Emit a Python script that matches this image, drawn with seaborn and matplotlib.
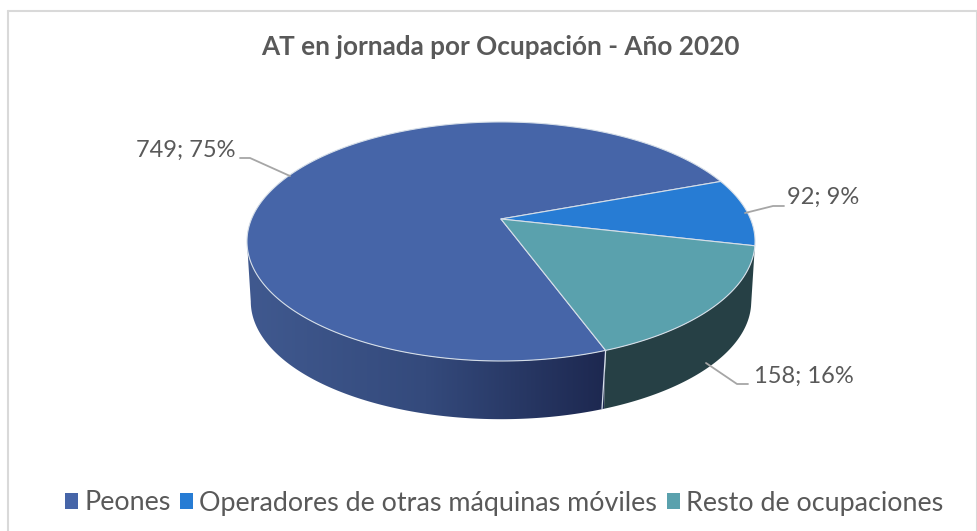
import numpy as np
import seaborn as sns
import matplotlib.pyplot as plt
from matplotlib.patches import Patch, Polygon

# Data
categories = ['Peones', 'Operadores de otras máquinas móviles', 'Resto de ocupaciones']
values = [749, 92, 158]
title = 'AT en jornada por Ocupación - Año 2020'

# Colors
face_colors = ['#4665A8', '#277CD4', '#5AA1AD']
wall_peones = ['#40598F', '#344A7C', '#1D2850']
wall_resto = '#264045'
edge_color = '#D5DEE8'
text_color = '#595959'
leader_color = '#A6A6A6'

sns.set_theme(style='white')
plt.rcParams['font.family'] = ['Lato', 'DejaVu Sans']

fig, ax = plt.subplots(figsize=(9.78, 5.31), dpi=100)
ax.set_position([0, 0, 1, 1])
ax.set_xlim(0, 978)
ax.set_ylim(531, 0)
ax.axis('off')

# Perspective view of the pie disc, in picture units
cx, cy = 501, 219
rx, ry, k = 249.5, 115.3, 0.188
mid_y, depth, shrink = 241, 60, 0.985


def rim(deg, lower=False):
    t = np.radians(deg)
    w = 1 + k * np.sin(t)
    x = cx + rx * np.cos(t) / w
    y = cy - ry * np.sin(t) / w
    if lower:
        x = cx + shrink * (x - cx)
        y = mid_y + depth + shrink * (y - mid_y)
    return x, y


def wall_outline(a0, a1):
    t = np.linspace(a0, a1, 120)
    x0, y0 = rim(t)
    x1, y1 = rim(t, lower=True)
    return np.r_[np.c_[x0, y0], np.c_[x1, y1][::-1]]


# Slice limits, clockwise, from the values
start = -69.8
sweep = 360 * np.array(values) / sum(values)
limits = start - np.r_[0, np.cumsum(sweep)]

# Walls
left_end = -169.2
poly = Polygon(wall_outline(limits[0], left_end), closed=True, fc='none', ec='none')
ax.add_patch(poly)
cmap = sns.blend_palette(wall_peones, n_colors=256, as_cmap=True)
grad = np.linspace(0, 1, 256).reshape(1, -1)
img = ax.imshow(grad, cmap=cmap, extent=(247, 605, 425, 230), aspect='auto', zorder=1)
img.set_clip_path(poly)
ax.set_xlim(0, 978)
ax.set_ylim(531, 0)

right_end = limits[2] + 360
ax.add_patch(Polygon(wall_outline(limits[0], right_end), closed=True, fc=wall_resto, ec='none', zorder=1))
sx, sy = rim(np.array([limits[0]]))
bx, by = rim(np.array([limits[0]]), lower=True)
ax.plot([sx[0], bx[0] - 2], [sy[0], by[0]], color=edge_color, lw=0.9, zorder=2)

# Top faces
for i in range(len(values)):
    t = np.linspace(limits[i], limits[i + 1], 300)
    x, y = rim(t)
    ax.fill(np.r_[cx, x], np.r_[cy, y], fc=face_colors[i], ec=edge_color, lw=0.8, zorder=3, joinstyle='round')

# Data labels with leader lines
total = sum(values)
labels = [f'{v}; {round(100 * v / total)}%' for v in values]
label_pos = [(235, 150, 'right'), (787, 197, 'left'), (754, 376, 'left')]
leaders = [
    ([240, 250, 290], [158, 158, 176]),
    ([745, 773, 784], [213, 206, 206]),
    ([706, 737, 748], [363, 384, 384]),
]
for lab, (lx, ly, ha), (px, py) in zip(labels, label_pos, leaders):
    ax.plot(px, py, color=leader_color, lw=1.3, zorder=4)
    ax.text(lx, ly, lab, ha=ha, va='center', fontsize=17, color=text_color)

ax.text(500, 47, title, ha='center', va='center', fontsize=18.8, fontweight='bold', color=text_color)

# Legend
handles = [Patch(fc=c, ec='none') for c in face_colors]
ax.legend(handles, categories, loc='center', bbox_to_anchor=(504, 503), bbox_transform=ax.transData,
          ncol=3, frameon=False, labelcolor=text_color, handlelength=0.5, handleheight=0.5,
          handletextpad=0.22, columnspacing=0.35, borderpad=0, prop={'size': 19.4})

# Chart frame
ax.plot([8, 8], [531, 11], color='#D9D9D9', lw=1.5, zorder=5)
ax.plot([8, 977], [11, 11], color='#D9D9D9', lw=1.5, zorder=5)
ax.plot([977, 977], [11, 531], color='#D9D9D9', lw=1.5, zorder=5)

fig.savefig('out.png', dpi=100)
